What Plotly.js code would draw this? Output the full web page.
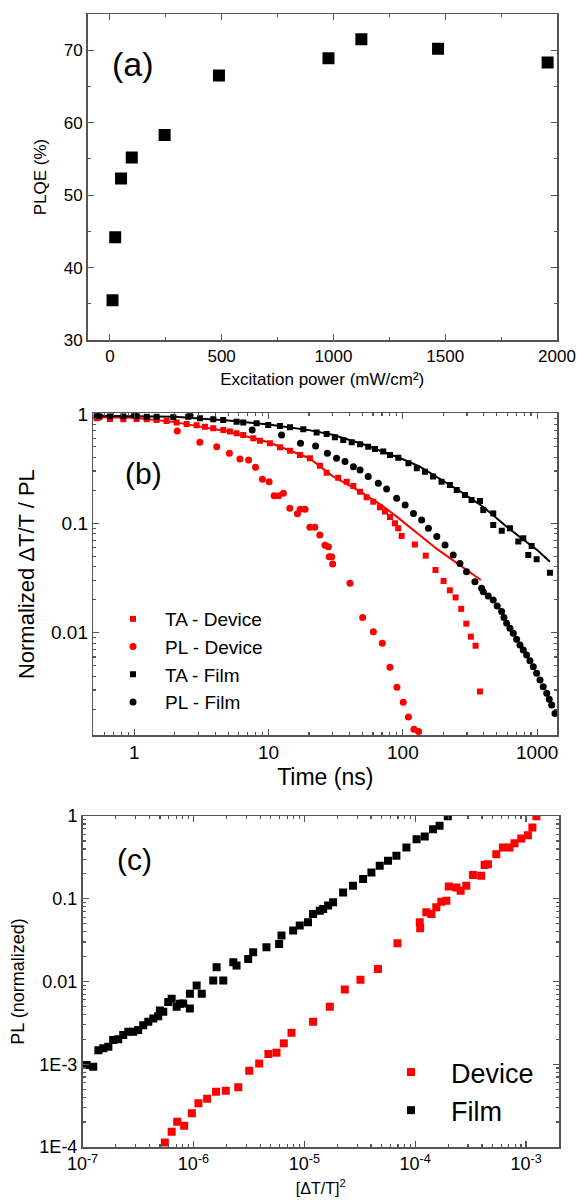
<!DOCTYPE html>
<html>
<head>
<meta charset="utf-8">
<script src="https://cdn.plot.ly/plotly-3.0.1.min.js"></script>
<style>html,body{margin:0;padding:0;background:#fff;}#chart{width:577px;height:1202px;}</style>
</head>
<body>
<div id="chart"></div>
<script>
// ---------- Panel (a): PLQE vs excitation power ----------
const powerA = [12, 24, 50, 98, 245, 488, 978, 1125, 1468, 1958];
const plqeA = [35.5, 44.2, 52.3, 55.2, 58.3, 66.5, 68.9, 71.5, 70.2, 68.3];

// ---------- Panel (b): normalized decays ----------
const taDevT = [0.524, 0.659, 0.829, 1.041, 1.236, 1.467, 1.742, 2.068, 2.455, 2.913, 3.36, 3.877, 4.60, 5.16, 5.78, 6.48, 7.70, 8.63, 10.24, 12.16, 14.43, 17.13, 20.34, 24.14, 27.07, 33.0, 38.2, 42.8, 48.0, 53.7, 60.2, 67.5, 73.6, 80.2, 87.3, 92.4, 98, 123, 148, 175, 201, 224, 247, 272, 297, 321, 348, 375];
const taDevV = [0.911, 0.898, 0.892, 0.898, 0.892, 0.880, 0.861, 0.832, 0.809, 0.786, 0.764, 0.738, 0.713, 0.688, 0.664, 0.641, 0.598, 0.569, 0.538, 0.495, 0.461, 0.421, 0.393, 0.335, 0.29, 0.261, 0.24, 0.219, 0.194, 0.173, 0.157, 0.14, 0.128, 0.114, 0.1, 0.09, 0.0766, 0.064, 0.0506, 0.0374, 0.0297, 0.0244, 0.021, 0.0165, 0.0121, 0.0092, 0.0076, 0.0029];

const plDevT = [0.55, 1.05, 2.09, 3.08, 4.11, 5.11, 6.12, 7.1, 8.0, 9.0, 10.1, 11.0, 11.9, 12.9, 14.4, 16.4, 17.2, 18.7, 20.3, 22.1, 24.1, 26.3, 27.9, 28.3, 29.5, 30.0, 40.4, 50.2, 60.3, 70.3, 80.2, 90.4, 100.7, 110, 121, 131];
const plDevV = [0.93, 0.95, 0.698, 0.55, 0.50, 0.436, 0.387, 0.379, 0.325, 0.253, 0.24, 0.178, 0.178, 0.188, 0.137, 0.122, 0.134, 0.134, 0.092, 0.092, 0.078, 0.063, 0.061, 0.0495, 0.0495, 0.0425, 0.0283, 0.0138, 0.0102, 0.008, 0.00483, 0.00317, 0.00231, 0.0017, 0.00131, 0.00125];

const taFilmT = [0.524, 0.66, 0.83, 1.04, 1.24, 1.467, 1.953, 2.525, 3.085, 3.877, 4.60, 5.78, 6.48, 8.15, 9.95, 12.16, 14.43, 18.14, 22.8, 27.07, 31.2, 36, 41.6, 48, 55.2, 62, 71.4, 80.2, 92.5, 110, 127, 146, 168, 194, 224, 252, 290, 325, 375, 397, 471, 471, 545, 627, 724, 789, 859, 910, 991, 1245];
const taFilmV = [0.957, 0.95, 0.95, 0.95, 0.94, 0.943, 0.930, 0.943, 0.911, 0.892, 0.880, 0.849, 0.832, 0.820, 0.792, 0.775, 0.754, 0.723, 0.674, 0.655, 0.611, 0.577, 0.55, 0.527, 0.501, 0.478, 0.452, 0.421, 0.398, 0.353, 0.318, 0.296, 0.267, 0.24, 0.224, 0.201, 0.181, 0.163, 0.16, 0.132, 0.123, 0.0964, 0.0855, 0.09, 0.068, 0.073, 0.0513, 0.062, 0.0469, 0.0353];

const plFilmT = [0.55, 1.0, 2.6, 7.56, 12.5, 17.3, 22.4, 27.4, 32.1, 37.1, 42.8, 48, 55.2, 65.6, 75.7, 89.9, 104, 120, 138, 155, 179, 206, 237, 266, 298, 344, 386, 397, 432, 471, 504, 544, 566, 593, 627, 664, 703, 745, 788, 835, 884, 936, 991, 1050, 1110, 1178, 1230, 1283, 1358];
const plFilmV = [0.96, 0.97, 0.97, 0.713, 0.641, 0.539, 0.509, 0.436, 0.393, 0.366, 0.329, 0.307, 0.267, 0.232, 0.206, 0.169, 0.147, 0.123, 0.107, 0.09, 0.0755, 0.0634, 0.0513, 0.043, 0.0361, 0.0292, 0.0255, 0.0237, 0.0216, 0.0199, 0.0175, 0.0156, 0.0138, 0.0122, 0.011, 0.0099, 0.0087, 0.0077, 0.00695, 0.00626, 0.00555, 0.00489, 0.00425, 0.0037, 0.00321, 0.00279, 0.00246, 0.00218, 0.00183];

// fit curves
const fitDevT = [0.5, 1, 2, 5, 10, 20, 30, 50, 70, 90, 180, 381];
const fitDevV = [0.93, 0.92, 0.84, 0.69, 0.55, 0.395, 0.27, 0.19, 0.145, 0.115, 0.058, 0.0303];
const fitFilmT = [0.5, 1, 2, 5, 10, 20, 30, 50, 100, 134, 200, 282, 400, 593, 800, 1000, 1245];
const fitFilmV = [0.96, 0.955, 0.94, 0.87, 0.80, 0.71, 0.645, 0.53, 0.385, 0.33, 0.245, 0.188, 0.14, 0.093, 0.07, 0.057, 0.0446];

// ---------- Panel (c): PL vs (dT/T)^2 ----------
const filmX = [1.09e-7, 1.25e-7, 1.39e-7, 1.54e-7, 1.71e-7, 1.89e-7, 2.1e-7, 2.33e-7, 2.59e-7, 2.87e-7, 3.18e-7, 3.53e-7, 3.92e-7, 4.35e-7, 4.82e-7, 4.99e-7, 5.35e-7, 5.93e-7, 6.37e-7, 7.06e-7, 7.55e-7, 8.1e-7, 9.3e-7, 9.3e-7, 1.07e-6, 1.19e-6, 1.51e-6, 1.62e-6, 1.86e-6, 2.29e-6, 2.45e-6, 3.12e-6, 3.46e-6, 4.56e-6, 5.93e-6, 6.23e-6, 7.94e-6, 9.1e-6, 1.08e-5, 1.2e-5, 1.38e-5, 1.48e-5, 1.64e-5, 1.82e-5, 2.24e-5, 2.75e-5, 3.39e-5, 4.03e-5, 4.79e-5, 5.69e-5, 6.77e-5, 8.34e-5, 1.03e-4, 1.22e-4, 1.45e-4, 1.66e-4, 1.97e-4];
const filmY = [9.8e-4, 9.3e-4, 1.48e-3, 1.56e-3, 1.63e-3, 1.96e-3, 2.0e-3, 2.25e-3, 2.47e-3, 2.47e-3, 2.59e-3, 2.97e-3, 3.26e-3, 3.58e-3, 3.81e-3, 4.47e-3, 4.3e-3, 5.67e-3, 6.17e-3, 4.94e-3, 5.37e-3, 5.42e-3, 4.72e-3, 7.1e-3, 8.95e-3, 7.1e-3, 1.03e-2, 1.49e-2, 1.03e-2, 1.71e-2, 1.56e-2, 1.87e-2, 2.26e-2, 2.59e-2, 2.84e-2, 3.59e-2, 4.12e-2, 4.74e-2, 5.19e-2, 6.54e-2, 7.18e-2, 7.5e-2, 8.26e-2, 9.05e-2, 0.119, 0.144, 0.173, 0.208, 0.251, 0.288, 0.331, 0.417, 0.525, 0.566, 0.693, 0.762, 0.99];

const devX = [5.53e-7, 6.37e-7, 7.15e-7, 8.26e-7, 9.69e-7, 1.11e-6, 1.33e-6, 1.6e-6, 1.96e-6, 2.54e-6, 3.19e-6, 3.92e-6, 4.75e-6, 5.62e-6, 6.54e-6, 7.67e-6, 1.2e-5, 1.7e-5, 2.32e-5, 3.21e-5, 4.62e-5, 6.92e-5, 1.1e-4, 1.11e-4, 1.26e-4, 1.4e-4, 1.55e-4, 1.72e-4, 1.91e-4, 2.01e-4, 2.35e-4, 2.57e-4, 2.89e-4, 3.32e-4, 3.94e-4, 4.23e-4, 4.53e-4, 5.39e-4, 6.18e-4, 7.1e-4, 7.87e-4, 9.05e-4, 1.04e-3, 1.14e-3, 1.24e-3];
const devY = [1.13e-4, 1.53e-4, 2.02e-4, 1.81e-4, 2.56e-4, 3.38e-4, 3.84e-4, 4.66e-4, 4.79e-4, 5.26e-4, 8.35e-4, 1.02e-3, 1.33e-3, 1.38e-3, 1.79e-3, 2.4e-3, 3.26e-3, 4.94e-3, 8.0e-3, 1.05e-2, 1.42e-2, 2.9e-2, 5.19e-2, 4.4e-2, 6.86e-2, 6.54e-2, 7.88e-2, 9.22e-2, 9.48e-2, 0.141, 0.137, 0.125, 0.144, 0.193, 0.19, 0.255, 0.262, 0.346, 0.417, 0.417, 0.47, 0.536, 0.587, 0.726, 0.99];

// tick labels
const xTickA = [0, 500, 1000, 1500, 2000];
const yTickA = [30, 40, 50, 60, 70];
const xTickBVals = [1, 10, 100, 1000];
const xTickBText = ['1', '10', '100', '1000'];
const yTickBVals = [0.01, 0.1, 1];
const yTickBText = ['0.01', '0.1', '1'];
const xTickCVals = [1e-7, 1e-6, 1e-5, 1e-4, 1e-3];
const xTickCText = ['10<sup>-7</sup>', '10<sup>-6</sup>', '10<sup>-5</sup>', '10<sup>-4</sup>', '10<sup>-3</sup>'];
const yTickCVals = [1e-4, 1e-3, 0.01, 0.1, 1];
const yTickCText = ['1E-4', '1E-3', '0.01', '0.1', '1'];

// ---------- build ----------
const RED = '#ff0000', BLK = '#000000', AX = '#555555';
const FONT = 'Liberation Sans, Arial, Helvetica, sans-serif';

function logMinor(lo, hi) {
  const v = [];
  for (let e = lo; e <= hi; e++) for (let m = 2; m <= 9; m++) v.push(m * Math.pow(10, e));
  return v;
}

const traces = [
  {x: powerA, y: plqeA, xaxis: 'x', yaxis: 'y', mode: 'markers', type: 'scatter', showlegend: false,
   marker: {symbol: 'square', size: 12, color: BLK}},

  {x: fitDevT, y: fitDevV, xaxis: 'x2', yaxis: 'y2', mode: 'lines', type: 'scatter', showlegend: false,
   line: {color: RED, width: 2}},
  {x: fitFilmT, y: fitFilmV, xaxis: 'x2', yaxis: 'y2', mode: 'lines', type: 'scatter', showlegend: false,
   line: {color: BLK, width: 2}},
  {x: taDevT, y: taDevV, xaxis: 'x2', yaxis: 'y2', mode: 'markers', type: 'scatter', name: 'TA - Device',
   marker: {symbol: 'square', size: 6, color: RED}, legend: 'legend'},
  {x: plDevT, y: plDevV, xaxis: 'x2', yaxis: 'y2', mode: 'markers', type: 'scatter', name: 'PL - Device',
   marker: {symbol: 'circle', size: 7, color: RED}, legend: 'legend'},
  {x: taFilmT, y: taFilmV, xaxis: 'x2', yaxis: 'y2', mode: 'markers', type: 'scatter', name: 'TA - Film',
   marker: {symbol: 'square', size: 6, color: BLK}, legend: 'legend'},
  {x: plFilmT, y: plFilmV, xaxis: 'x2', yaxis: 'y2', mode: 'markers', type: 'scatter', name: 'PL - Film',
   marker: {symbol: 'circle', size: 7, color: BLK}, legend: 'legend'},

  {x: devX, y: devY, xaxis: 'x3', yaxis: 'y3', mode: 'markers', type: 'scatter', name: 'Device',
   marker: {symbol: 'square', size: 8, color: RED}, legend: 'legend2'},
  {x: filmX, y: filmY, xaxis: 'x3', yaxis: 'y3', mode: 'markers', type: 'scatter', name: 'Film',
   marker: {symbol: 'square', size: 8, color: BLK}, legend: 'legend2'}
];

const axBase = {
  showline: true, linecolor: AX, linewidth: 1.5, mirror: 'allticks',
  ticks: 'inside', ticklen: 6, tickwidth: 1.2, tickcolor: AX,
  showgrid: false, zeroline: false, fixedrange: true,
  tickfont: {family: FONT, color: '#000'}
};
function ax(o) { return Object.assign({}, axBase, o); }

const W = 577, H = 1202;
const layout = {
  width: W, height: H,
  margin: {l: 0, r: 0, t: 0, b: 0},
  paper_bgcolor: '#fff', plot_bgcolor: '#fff',
  font: {family: FONT, color: '#000'},
  xaxis: ax({domain: [87.5 / W, 557 / W], anchor: 'y', range: [-100, 2000],
    tickmode: 'array', tickvals: xTickA, tickfont: {family: FONT, size: 17, color: '#000'},
    minor: {tickmode: 'linear', tick0: 0, dtick: 250, ticks: 'inside', ticklen: 3, tickcolor: AX, showgrid: false},
    title: {text: 'Excitation power (mW/cm²)', font: {family: FONT, size: 17, color: '#000'}, standoff: 8}}),
  yaxis: ax({domain: [1 - 340 / H, 1 - 14 / H], anchor: 'x', range: [30, 75],
    tickmode: 'array', tickvals: yTickA, tickfont: {family: FONT, size: 17, color: '#000'},
    minor: {tickmode: 'linear', tick0: 30, dtick: 5, ticks: 'inside', ticklen: 3, tickcolor: AX, showgrid: false},
    title: {text: 'PLQE (%)', font: {family: FONT, size: 17, color: '#000'}, standoff: 12}}),

  xaxis2: ax({domain: [93.3 / W, 557.3 / W], anchor: 'y2', type: 'log', range: [-0.305, 3.15],
    tickmode: 'array', tickvals: xTickBVals, ticktext: xTickBText, tickfont: {family: FONT, size: 19, color: '#000'},
    minor: {tickmode: 'array', tickvals: logMinor(-1, 3), ticks: 'inside', ticklen: 3, tickcolor: AX, showgrid: false},
    title: {text: 'Time (ns)', font: {family: FONT, size: 23, color: '#000'}, standoff: 6}}),
  yaxis2: ax({domain: [1 - 735 / H, 1 - 413.3 / H], anchor: 'x2', type: 'log', range: [-2.935, 0.005],
    tickmode: 'array', tickvals: yTickBVals, ticktext: yTickBText, tickfont: {family: FONT, size: 19, color: '#000'},
    minor: {tickmode: 'array', tickvals: logMinor(-3, 0), ticks: 'inside', ticklen: 3, tickcolor: AX, showgrid: false},
    title: {text: 'Normalized ΔT/T / PL', font: {family: FONT, size: 22, color: '#000'}, standoff: 10}}),

  xaxis3: ax({domain: [82.5 / W, 559 / W], anchor: 'y3', type: 'log', range: [-7, -2.703],
    tickmode: 'array', tickvals: xTickCVals, ticktext: xTickCText, tickfont: {family: FONT, size: 18, color: '#000'},
    minor: {tickmode: 'array', tickvals: logMinor(-7, -3), ticks: 'inside', ticklen: 3, tickcolor: AX, showgrid: false},
    title: {text: '[ΔT/T]<sup>2</sup>', font: {family: FONT, size: 16, color: '#000'}, standoff: 9}}),
  yaxis3: ax({domain: [1 - 1147 / H, 1 - 816 / H], anchor: 'x3', type: 'log', range: [-4, 0],
    tickmode: 'array', tickvals: yTickCVals, ticktext: yTickCText, tickfont: {family: FONT, size: 18, color: '#000'},
    minor: {tickmode: 'array', tickvals: logMinor(-4, -1), ticks: 'inside', ticklen: 3, tickcolor: AX, showgrid: false},
    title: {text: 'PL (normalized)', font: {family: FONT, size: 18, color: '#000'}, standoff: 10}}),

  legend: {x: 101 / W, y: 1 - 600 / H, xanchor: 'left', yanchor: 'top', bgcolor: 'rgba(0,0,0,0)',
    itemwidth: 54, font: {family: FONT, size: 19, color: '#000'}, tracegroupgap: 0},
  legend2: {x: 371 / W, y: 1 - 1048 / H, xanchor: 'left', yanchor: 'top', bgcolor: 'rgba(0,0,0,0)',
    itemwidth: 70, font: {family: FONT, size: 27, color: '#000'}, tracegroupgap: 0},

  annotations: [
    {text: '(a)', xref: 'paper', yref: 'paper', x: 133 / W, y: 1 - 64 / H, showarrow: false,
     xanchor: 'center', yanchor: 'middle', font: {family: FONT, size: 34, color: '#000'}},
    {text: '(b)', xref: 'paper', yref: 'paper', x: 143 / W, y: 1 - 473 / H, showarrow: false,
     xanchor: 'center', yanchor: 'middle', font: {family: FONT, size: 30, color: '#000'}},
    {text: '(c)', xref: 'paper', yref: 'paper', x: 134 / W, y: 1 - 859 / H, showarrow: false,
     xanchor: 'center', yanchor: 'middle', font: {family: FONT, size: 30, color: '#000'}}
  ]
};

Plotly.newPlot('chart', traces, layout, {displayModeBar: false, staticPlot: true});
</script>
</body>
</html>
